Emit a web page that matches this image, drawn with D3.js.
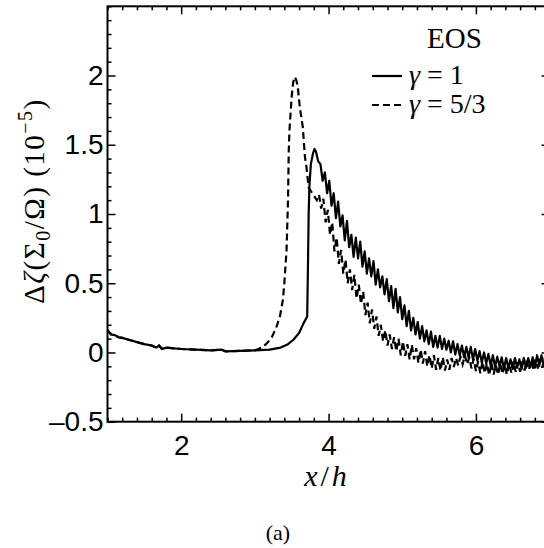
<!DOCTYPE html>
<html>
<head>
<meta charset="utf-8">
<script src="https://cdn.jsdelivr.net/npm/d3@7"></script>
<style>
  body { margin: 0; background: #fff; }
  svg { display: block; }
</style>
</head>
<body>
<svg id="chart" width="544" height="548"></svg>
<script>
// ---------------------------------------------------------------------------
// Data
// ---------------------------------------------------------------------------
const xDomain = [1, 7];
const yDomain = [-0.5, 2.5];
const xTicks = [2, 4, 6];
const xTickLabels = ['2', '4', '6'];
const yTicks = [-0.5, 0, 0.5, 1, 1.5, 2];
const yTickLabels = ['\u20130.5', '0', '0.5', '1', '1.5', '2'];

// both runs share the same flat part ahead of the shock
const sharedStart = [
  [1.00, 0.16], [1.05, 0.13], [1.10, 0.125], [1.15, 0.11], [1.20, 0.105],
  [1.30, 0.09], [1.40, 0.075], [1.50, 0.06], [1.60, 0.05], [1.66, 0.035],
  [1.70, 0.05], [1.74, 0.025], [1.80, 0.035], [1.90, 0.03], [2.00, 0.025],
  [2.20, 0.02], [2.40, 0.015], [2.55, 0.02], [2.60, 0.008], [2.80, 0.012],
  [3.00, 0.015]
];

// gamma = 1 (solid)
const gamma1Rest = [
  [3.20, 0.02], [3.35, 0.035], [3.45, 0.06], [3.52, 0.09], [3.60, 0.14],
  [3.66, 0.21], [3.71, 0.26], [3.72, 0.60], [3.73, 1.00], [3.74, 1.20],
  [3.76, 1.36], [3.79, 1.44], [3.81, 1.47], [3.83, 1.45], [3.86, 1.38],
  [3.89, 1.36], [3.92, 1.24], [3.95, 1.30], [3.98, 1.15], [4.01, 1.24],
  [4.04, 1.06], [4.07, 1.15], [4.10, 0.97], [4.13, 1.09], [4.16, 0.91],
  [4.19, 0.99], [4.22, 0.81], [4.25, 0.95], [4.28, 0.76], [4.31, 0.85],
  [4.34, 0.69], [4.37, 0.83], [4.40, 0.68], [4.43, 0.80], [4.46, 0.62],
  [4.49, 0.73], [4.52, 0.57], [4.55, 0.68], [4.58, 0.55], [4.61, 0.66],
  [4.64, 0.49], [4.67, 0.60], [4.70, 0.47], [4.73, 0.55], [4.76, 0.42],
  [4.79, 0.53], [4.82, 0.37], [4.85, 0.48], [4.88, 0.32], [4.91, 0.46],
  [4.94, 0.29], [4.97, 0.40], [5.00, 0.24], [5.03, 0.34], [5.06, 0.19],
  [5.09, 0.30], [5.12, 0.16], [5.15, 0.25], [5.18, 0.13], [5.21, 0.22],
  [5.24, 0.10], [5.27, 0.19], [5.30, 0.08], [5.33, 0.16], [5.36, 0.06],
  [5.39, 0.15], [5.42, 0.04], [5.45, 0.12], [5.48, 0.035], [5.51, 0.12],
  [5.54, 0.025], [5.57, 0.10], [5.60, 0.02], [5.63, 0.085], [5.66, 0.00],
  [5.69, 0.08], [5.72, -0.015], [5.75, 0.06], [5.78, -0.02], [5.81, 0.05],
  [5.84, -0.035], [5.87, 0.04], [5.90, -0.035], [5.93, 0.04], [5.96, -0.05],
  [5.99, 0.025], [6.02, -0.06], [6.05, 0.01], [6.08, -0.075], [6.11, 0.00],
  [6.14, -0.08], [6.17, -0.01], [6.20, -0.095], [6.23, -0.02], [6.26, -0.105],
  [6.29, -0.03], [6.32, -0.10], [6.35, -0.035], [6.38, -0.12], [6.41, -0.04],
  [6.44, -0.11], [6.47, -0.05], [6.50, -0.12], [6.53, -0.04], [6.56, -0.11],
  [6.59, -0.05], [6.62, -0.12], [6.65, -0.04], [6.68, -0.11], [6.71, -0.04],
  [6.74, -0.105], [6.77, -0.035], [6.80, -0.11], [6.83, -0.02], [6.86, -0.095],
  [6.89, -0.02], [6.92, -0.10], [6.95, -0.02], [6.98, -0.08], [7.00, -0.06]
];

// gamma = 5/3 (dashed)
const gamma53Rest = [
  [3.05, 0.025], [3.11, 0.04], [3.17, 0.07], [3.23, 0.11], [3.29, 0.18],
  [3.34, 0.26], [3.38, 0.38], [3.40, 0.50], [3.43, 0.74], [3.45, 1.10],
  [3.46, 1.46], [3.47, 1.61], [3.50, 1.85], [3.52, 1.95], [3.54, 1.99],
  [3.56, 1.97], [3.58, 1.93], [3.61, 1.77], [3.65, 1.63], [3.68, 1.41],
  [3.70, 1.34], [3.73, 1.19], [3.78, 1.15], [3.84, 1.10], [3.87, 1.14],
  [3.90, 1.04], [3.93, 1.11], [3.96, 0.94], [3.99, 1.03], [4.02, 0.85],
  [4.05, 0.94], [4.08, 0.73], [4.11, 0.83], [4.14, 0.64], [4.17, 0.74],
  [4.20, 0.57], [4.23, 0.67], [4.26, 0.50], [4.29, 0.60], [4.32, 0.45],
  [4.35, 0.56], [4.38, 0.39], [4.41, 0.49], [4.44, 0.35], [4.47, 0.44],
  [4.50, 0.27], [4.53, 0.36], [4.56, 0.21], [4.59, 0.31], [4.62, 0.17],
  [4.65, 0.26], [4.68, 0.12], [4.71, 0.20], [4.74, 0.08], [4.77, 0.16],
  [4.80, 0.05], [4.83, 0.13], [4.86, 0.025], [4.89, 0.11], [4.92, 0.01],
  [4.95, 0.10], [4.98, -0.02], [5.01, 0.08], [5.04, -0.025], [5.07, 0.06],
  [5.10, -0.05], [5.13, 0.055], [5.16, -0.05], [5.19, 0.03], [5.22, -0.075],
  [5.25, 0.02], [5.28, -0.08], [5.31, 0.01], [5.34, -0.10], [5.37, -0.02],
  [5.40, -0.115], [5.43, -0.02], [5.46, -0.125], [5.49, -0.04], [5.52, -0.13],
  [5.55, -0.035], [5.58, -0.13], [5.61, -0.05], [5.64, -0.125], [5.67, -0.04],
  [5.70, -0.105], [5.73, -0.04], [5.76, -0.095], [5.79, -0.03], [5.82, -0.085],
  [5.85, -0.02], [5.88, -0.085], [5.91, -0.035], [5.94, -0.115], [5.97, -0.045],
  [6.00, -0.135], [6.03, -0.065], [6.06, -0.15], [6.09, -0.065], [6.12, -0.15],
  [6.15, -0.08], [6.18, -0.165], [6.21, -0.075], [6.24, -0.16], [6.27, -0.09],
  [6.30, -0.16], [6.33, -0.08], [6.36, -0.155], [6.39, -0.085], [6.42, -0.16],
  [6.45, -0.08], [6.48, -0.145], [6.51, -0.065], [6.54, -0.14], [6.57, -0.07],
  [6.60, -0.14], [6.63, -0.065], [6.66, -0.13], [6.69, -0.06], [6.72, -0.125],
  [6.75, -0.055], [6.78, -0.12], [6.81, -0.05], [6.84, -0.115], [6.87, -0.045],
  [6.90, -0.11], [6.93, -0.04], [6.96, -0.10], [7.00, -0.06]
];

const gamma1 = sharedStart.concat(gamma1Rest);
const gamma53 = sharedStart.concat(gamma53Rest);

// ---------------------------------------------------------------------------
// Layout
// ---------------------------------------------------------------------------
const plot = { left: 107.5, top: 6.3, right: 549.6, bottom: 421.7 };
const svg = d3.select('#chart');

const x = d3.scaleLinear().domain(xDomain).range([plot.left, plot.right]);
const y = d3.scaleLinear().domain(yDomain).range([plot.bottom, plot.top]);

svg.append('defs').append('clipPath').attr('id', 'clip')
  .append('rect')
  .attr('x', plot.left).attr('y', plot.top)
  .attr('width', plot.right - plot.left)
  .attr('height', plot.bottom - plot.top);

// ---------------------------------------------------------------------------
// Curves
// ---------------------------------------------------------------------------
const line = d3.line().x(d => x(d[0])).y(d => y(d[1]));
const curves = svg.append('g').attr('clip-path', 'url(#clip)');

curves.append('path')
  .attr('d', line(gamma53))
  .attr('fill', 'none')
  .attr('stroke', '#000')
  .attr('stroke-width', 2.2)
  .attr('stroke-dasharray', '7,4');

curves.append('path')
  .attr('d', line(gamma1))
  .attr('fill', 'none')
  .attr('stroke', '#000')
  .attr('stroke-width', 2.2)
  .attr('stroke-linejoin', 'round');

// ---------------------------------------------------------------------------
// Axes: inward ticks on all four sides
// ---------------------------------------------------------------------------
const xMinor = d3.range(1, 7.001, 0.2).filter(v => !xTicks.some(t => Math.abs(t - v) < 1e-6));
const yMinor = d3.range(-0.5, 2.501, 0.1).filter(v => !yTicks.some(t => Math.abs(t - v) < 1e-6));

function styleAxis(sel) {
  sel.select('.domain').remove();
  sel.selectAll('line').attr('stroke', '#000').attr('stroke-width', 1.5);
  sel.selectAll('text')
    .attr('fill', '#000')
    .style('font-family', '"Liberation Sans", Arial, sans-serif')
    .style('font-size', '28px');
}

// bottom
svg.append('g').attr('transform', `translate(0,${plot.bottom})`)
  .call(d3.axisBottom(x).tickValues(xTicks).tickSize(-8).tickPadding(13)
    .tickFormat((d, i) => xTickLabels[i]))
  .call(styleAxis);
svg.append('g').attr('transform', `translate(0,${plot.bottom})`)
  .call(d3.axisBottom(x).tickValues(xMinor).tickSize(-4).tickFormat(''))
  .call(styleAxis);
// top
svg.append('g').attr('transform', `translate(0,${plot.top})`)
  .call(d3.axisTop(x).tickValues(xTicks).tickSize(-8).tickFormat(''))
  .call(styleAxis);
svg.append('g').attr('transform', `translate(0,${plot.top})`)
  .call(d3.axisTop(x).tickValues(xMinor).tickSize(-4).tickFormat(''))
  .call(styleAxis);
// left
svg.append('g').attr('transform', `translate(${plot.left},0)`)
  .call(d3.axisLeft(y).tickValues(yTicks).tickSize(-8).tickPadding(4)
    .tickFormat((d, i) => yTickLabels[i]))
  .call(styleAxis);
svg.append('g').attr('transform', `translate(${plot.left},0)`)
  .call(d3.axisLeft(y).tickValues(yMinor).tickSize(-4).tickFormat(''))
  .call(styleAxis);
// right
svg.append('g').attr('transform', `translate(${plot.right},0)`)
  .call(d3.axisRight(y).tickValues(yTicks).tickSize(-8).tickFormat(''))
  .call(styleAxis);
svg.append('g').attr('transform', `translate(${plot.right},0)`)
  .call(d3.axisRight(y).tickValues(yMinor).tickSize(-4).tickFormat(''))
  .call(styleAxis);

// frame
svg.append('rect')
  .attr('x', plot.left).attr('y', plot.top)
  .attr('width', plot.right - plot.left)
  .attr('height', plot.bottom - plot.top)
  .attr('fill', 'none')
  .attr('stroke', '#000')
  .attr('stroke-width', 2);

// ---------------------------------------------------------------------------
// Labels
// ---------------------------------------------------------------------------
const serif = '"Liberation Serif", "DejaVu Serif", serif';

const xLabel = svg.append('text')
  .attr('x', 327).attr('y', 486)
  .attr('text-anchor', 'middle')
  .style('font-family', serif).style('font-size', '30px')
  .style('letter-spacing', '3px');
xLabel.append('tspan').style('font-style', 'italic').text('x');
xLabel.append('tspan').text('/');
xLabel.append('tspan').style('font-style', 'italic').text('h');

svg.append('text')
  .attr('x', 278).attr('y', 540)
  .attr('text-anchor', 'middle')
  .style('font-family', serif).style('font-size', '22px')
  .text('(a)');

const yLabel = svg.append('text')
  .attr('transform', 'translate(44,201) rotate(-90)')
  .attr('text-anchor', 'middle')
  .style('font-family', serif).style('font-size', '29px')
  .style('letter-spacing', '1.5px');
yLabel.append('tspan').text('\u0394');
yLabel.append('tspan').style('font-style', 'italic').text('\u03b6');
yLabel.append('tspan').text('(\u03a3');
yLabel.append('tspan').attr('dy', 6).style('font-size', '20px').text('0');
yLabel.append('tspan').attr('dy', -6).text('/\u03a9) (10');
yLabel.append('tspan').attr('dy', -12).style('font-size', '20px').text('\u22125');
yLabel.append('tspan').attr('dy', 12).text(')');

// legend
const legend = svg.append('g').style('font-family', serif);
legend.append('text')
  .attr('x', 454.5).attr('y', 48)
  .attr('text-anchor', 'middle')
  .style('font-size', '29px')
  .text('EOS');

const legendItems = [
  { label: '1', dash: null, yPos: 76 },
  { label: '5/3', dash: '7,4', yPos: 105 }
];
legendItems.forEach(item => {
  legend.append('line')
    .attr('x1', 372).attr('x2', 402)
    .attr('y1', item.yPos).attr('y2', item.yPos)
    .attr('stroke', '#000').attr('stroke-width', 2.2)
    .attr('stroke-dasharray', item.dash);
  const t = legend.append('text')
    .attr('x', 409).attr('y', item.yPos + 8)
    .style('font-size', '28px');
  t.append('tspan').style('font-style', 'italic').text('\u03b3');
  t.append('tspan').text(' = ' + item.label);
});
</script>
</body>
</html>
